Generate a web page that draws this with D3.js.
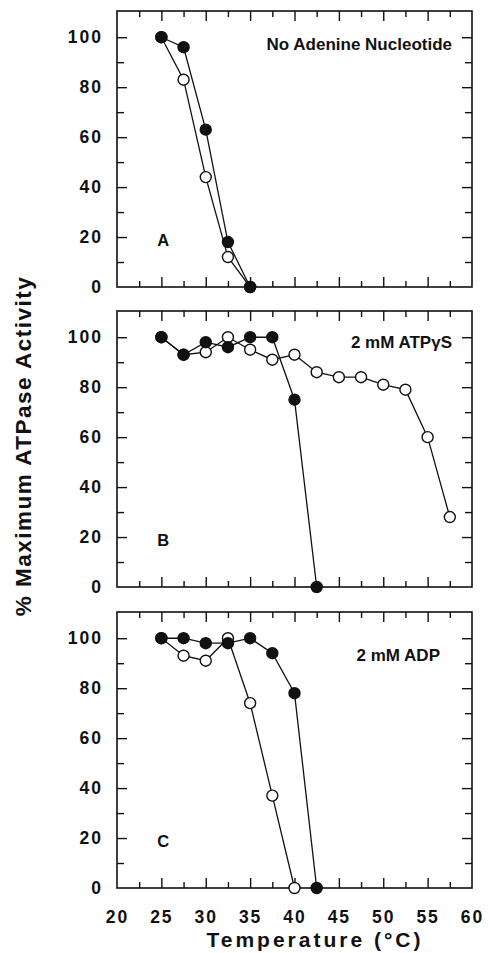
<!DOCTYPE html>
<html>
<head>
<meta charset="utf-8">
<script src="https://cdn.jsdelivr.net/npm/d3@7"></script>
<style>
  body { margin: 0; background: #fff; }
  text { font-family: "Liberation Sans", Arial, sans-serif; font-weight: bold; fill: #111; }
</style>
</head>
<body>
<div id="chart"></div>
<script>
// data
const tempsA = [25, 27.5, 30, 32.5, 35]
const filledA = [100, 96, 63, 18, 0]
const openA = [100, 83, 44, 12, 0]

const tempsFilledB = [25, 27.5, 30, 32.5, 35, 37.5, 40, 42.5]
const filledB = [100, 93, 98, 96, 100, 100, 75, 0]
const tempsOpenB = [25, 27.5, 30, 32.5, 35, 37.5, 40, 42.5, 45, 47.5, 50, 52.5, 55, 57.5]
const openB = [100, 93, 94, 100, 95, 91, 93, 86, 84, 84, 81, 79, 60, 28]

const tempsFilledC = [25, 27.5, 30, 32.5, 35, 37.5, 40, 42.5]
const filledC = [100, 100, 98, 98, 100, 94, 78, 0]
const tempsOpenC = [25, 27.5, 30, 32.5, 35, 37.5, 40]
const openC = [100, 93, 91, 100, 74, 37, 0]

const panelLetters = ['A', 'B', 'C']
const panelTitles = ['No Adenine Nucleotide', '2 mM ATP\u03b3S', '2 mM ADP']
const xTickLabels = [20, 25, 30, 35, 40, 45, 50, 55, 60]
const yTickLabels = [0, 20, 40, 60, 80, 100]

const panels = [
    {letter: panelLetters[0], title: panelTitles[0], filled: tempsA.map((t, i) => [t, filledA[i]]), open: tempsA.map((t, i) => [t, openA[i]])},
    {letter: panelLetters[1], title: panelTitles[1], filled: tempsFilledB.map((t, i) => [t, filledB[i]]), open: tempsOpenB.map((t, i) => [t, openB[i]])},
    {letter: panelLetters[2], title: panelTitles[2], filled: tempsFilledC.map((t, i) => [t, filledC[i]]), open: tempsOpenC.map((t, i) => [t, openC[i]])}
]

// layout
const W = 490, H = 953
const left = 117, w = 355, h = 276
const tops = [11, 311, 612]
const titlePos = [{x: 452, dy: 33}, {x: 452, dy: 31}, {x: 440, dy: 43}]

const svg = d3.select('#chart')
              .append('svg')
              .attr('width', W)
              .attr('height', H)

const x = d3.scaleLinear().domain([20, 60]).range([0, w])
const y = d3.scaleLinear().domain([0, 110.5]).range([h, 0])

const minorX = d3.range(22.5, 60, 5)
const majorX = d3.range(25, 60, 5)
const minorY = [10, 30, 50, 70, 90]
const majorY = [20, 40, 60, 80, 100]

const line = d3.line().x(d => x(d[0])).y(d => y(d[1]))

function tickAxis(g, axis, tr) {
    g.append('g')
        .attr('transform', tr)
        .call(axis.tickFormat(''))
        .call(s => s.select('.domain').remove())
        .selectAll('line').attr('stroke', '#111').attr('stroke-width', 1.4)
}

panels.forEach((p, i) => {
    const g = svg.append('g').attr('transform', `translate(${left}, ${tops[i]})`)

    // inward ticks
    tickAxis(g, d3.axisBottom(x).tickValues(minorX).tickSize(-6), `translate(0, ${h})`)
    tickAxis(g, d3.axisBottom(x).tickValues(majorX).tickSize(-10), `translate(0, ${h})`)
    tickAxis(g, d3.axisTop(x).tickValues(minorX).tickSize(-6), 'translate(0, 0)')
    tickAxis(g, d3.axisTop(x).tickValues(majorX).tickSize(-10), 'translate(0, 0)')
    tickAxis(g, d3.axisLeft(y).tickValues(minorY).tickSize(-7), 'translate(0, 0)')
    tickAxis(g, d3.axisLeft(y).tickValues(majorY).tickSize(-10), 'translate(0, 0)')
    tickAxis(g, d3.axisRight(y).tickValues(minorY).tickSize(-7), `translate(${w}, 0)`)
    tickAxis(g, d3.axisRight(y).tickValues(majorY).tickSize(-10), `translate(${w}, 0)`)

    // frame
    g.append('rect')
        .attr('width', w).attr('height', h)
        .attr('fill', 'none')
        .attr('stroke', '#111')
        .attr('stroke-width', 1.6)

    // y tick labels
    g.append('g')
        .call(d3.axisLeft(y).tickValues(yTickLabels).tickSize(0).tickPadding(14))
        .call(s => s.select('.domain').remove())
        .attr('font-size', null).attr('font-family', null)
        .selectAll('text')
            .style('font-size', '17.5px')
            .style('letter-spacing', '2px')

    // series: open first, filled on top
    const series = [{pts: p.open, fill: '#fff'}, {pts: p.filled, fill: '#111'}]
    series.forEach(s => {
        g.append('path')
            .datum(s.pts)
            .attr('d', line)
            .attr('fill', 'none')
            .attr('stroke', '#111')
            .attr('stroke-width', 1.3)
        g.selectAll(null)
            .data(s.pts).enter()
            .append('circle')
                .attr('cx', d => x(d[0]))
                .attr('cy', d => y(d[1]))
                .attr('r', 5.5)
                .attr('fill', s.fill)
                .attr('stroke', '#111')
                .attr('stroke-width', 1.4)
    })

    g.append('text')
        .attr('x', titlePos[i].x - left)
        .attr('y', titlePos[i].dy)
        .attr('text-anchor', 'end')
        .attr('dominant-baseline', 'central')
        .style('font-size', '17px')
        .text(p.title)

    g.append('text')
        .attr('x', x(25.2))
        .attr('y', y(19))
        .attr('text-anchor', 'middle')
        .attr('dominant-baseline', 'central')
        .style('font-size', '16.5px')
        .text(p.letter)

    if (i === panels.length - 1) {
        g.append('g')
            .attr('transform', `translate(0, ${h})`)
            .call(d3.axisBottom(x).tickValues(xTickLabels).tickSize(0).tickPadding(23))
            .call(s => s.select('.domain').remove())
            .attr('font-size', null).attr('font-family', null)
            .selectAll('text')
                .style('font-size', '17.5px')
                .style('letter-spacing', '2px')
    }
})

svg.append('text')
    .attr('x', 315)
    .attr('y', 947)
    .attr('text-anchor', 'middle')
    .style('font-size', '21px')
    .style('letter-spacing', '3px')
    .text('Temperature (\u00b0C)')

svg.append('text')
    .attr('transform', 'translate(31, 446) rotate(-90)')
    .attr('text-anchor', 'middle')
    .style('font-size', '22.5px')
    .style('letter-spacing', '1.5px')
    .text('% Maximum ATPase Activity')
</script>
</body>
</html>
